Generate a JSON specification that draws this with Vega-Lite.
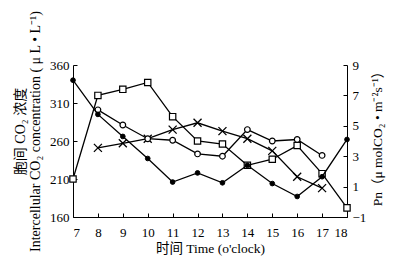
{
  "$schema": "https://vega.github.io/schema/vega-lite/v6.json",
  "width": 274,
  "height": 152,
  "autosize": "none",
  "padding": {"left": 73, "top": 65, "right": 50, "bottom": 47},
  "config": {
    "view": {"stroke": null},
    "axis": {
      "grid": false,
      "domainColor": "black",
      "tickColor": "black",
      "labelColor": "black",
      "titleColor": "black",
      "labelFont": "Liberation Serif, Noto Sans CJK SC, serif",
      "titleFont": "Liberation Serif, Noto Sans CJK SC, serif",
      "labelFontSize": 13,
      "titleFontSize": 13.5,
      "titleFontWeight": "normal",
      "tickSize": -4,
      "domainWidth": 1,
      "tickWidth": 1
    }
  },
  "data": {
    "values": [
      {"hour": 7, "value": 340, "series": "Ci-1"},
      {"hour": 8, "value": 295, "series": "Ci-1"},
      {"hour": 9, "value": 266, "series": "Ci-1"},
      {"hour": 10, "value": 237, "series": "Ci-1"},
      {"hour": 11, "value": 206, "series": "Ci-1"},
      {"hour": 12, "value": 218, "series": "Ci-1"},
      {"hour": 13, "value": 205, "series": "Ci-1"},
      {"hour": 14, "value": 228, "series": "Ci-1"},
      {"hour": 15, "value": 204, "series": "Ci-1"},
      {"hour": 16, "value": 187, "series": "Ci-1"},
      {"hour": 17, "value": 213, "series": "Ci-1"},
      {"hour": 18, "value": 262, "series": "Ci-1"},
      {"hour": 8, "value": 301, "series": "Ci-2"},
      {"hour": 9, "value": 281, "series": "Ci-2"},
      {"hour": 10, "value": 263, "series": "Ci-2"},
      {"hour": 11, "value": 261, "series": "Ci-2"},
      {"hour": 12, "value": 243, "series": "Ci-2"},
      {"hour": 13, "value": 240, "series": "Ci-2"},
      {"hour": 14, "value": 275, "series": "Ci-2"},
      {"hour": 15, "value": 260, "series": "Ci-2"},
      {"hour": 16, "value": 262, "series": "Ci-2"},
      {"hour": 17, "value": 241, "series": "Ci-2"},
      {"hour": 7, "value": 1.5, "series": "Pn-1"},
      {"hour": 8, "value": 7.0, "series": "Pn-1"},
      {"hour": 9, "value": 7.4, "series": "Pn-1"},
      {"hour": 10, "value": 7.85, "series": "Pn-1"},
      {"hour": 11, "value": 5.6, "series": "Pn-1"},
      {"hour": 12, "value": 4.0, "series": "Pn-1"},
      {"hour": 13, "value": 3.8, "series": "Pn-1"},
      {"hour": 14, "value": 2.4, "series": "Pn-1"},
      {"hour": 15, "value": 2.8, "series": "Pn-1"},
      {"hour": 16, "value": 3.7, "series": "Pn-1"},
      {"hour": 17, "value": 1.85, "series": "Pn-1"},
      {"hour": 18, "value": -0.4, "series": "Pn-1"},
      {"hour": 8, "value": 3.55, "series": "Pn-2"},
      {"hour": 9, "value": 3.85, "series": "Pn-2"},
      {"hour": 10, "value": 4.15, "series": "Pn-2"},
      {"hour": 11, "value": 4.75, "series": "Pn-2"},
      {"hour": 12, "value": 5.2, "series": "Pn-2"},
      {"hour": 13, "value": 4.65, "series": "Pn-2"},
      {"hour": 14, "value": 4.15, "series": "Pn-2"},
      {"hour": 15, "value": 3.35, "series": "Pn-2"},
      {"hour": 16, "value": 1.65, "series": "Pn-2"},
      {"hour": 17, "value": 0.9, "series": "Pn-2"}
    ]
  },
  "encoding": {
    "x": {
      "field": "hour",
      "type": "quantitative",
      "scale": {"domain": [7, 18], "nice": false, "zero": false},
      "axis": {
        "values": [7, 8, 9, 10, 11, 12, 13, 14, 15, 16, 17, 18],
        "title": "时间  Time (o'clock)",
        "labelPadding": 13,
        "titleX": 137,
        "titleY": 31,
        "titleAlign": "center",
        "titleBaseline": "middle"
      }
    }
  },
  "layer": [
    {
      "encoding": {
        "y": {
          "field": "value",
          "type": "quantitative",
          "scale": {"domain": [-1, 9], "nice": false, "zero": false},
          "axis": {
            "orient": "right",
            "values": [-1, 1, 3, 5, 7, 9],
            "title": "Pn（μ molCO₂ • m⁻²s⁻¹）",
            "titleAngle": 270,
            "titleX": 30,
            "titleY": 70,
            "titleAlign": "center",
            "titleBaseline": "middle",
            "labelPadding": 9
          }
        }
      },
      "layer": [
        {
          "transform": [{"filter": "datum.series === 'Pn-1'"}],
          "mark": {"type": "line", "color": "black", "strokeWidth": 1.3},
          "encoding": {}
        },
        {
          "transform": [{"filter": "datum.series === 'Pn-1'"}],
          "mark": {"type": "point", "shape": "square", "size": 40, "filled": true, "fill": "white", "stroke": "black", "strokeWidth": 1.2, "opacity": 1},
          "encoding": {}
        },
        {
          "transform": [{"filter": "datum.series === 'Pn-2'"}],
          "mark": {"type": "line", "color": "black", "strokeWidth": 1.3},
          "encoding": {}
        },
        {
          "transform": [{"filter": "datum.series === 'Pn-2'"}],
          "mark": {"type": "point", "shape": "M-1,-1L1,1M-1,1L1,-1", "size": 64, "filled": false, "stroke": "black", "strokeWidth": 1.3, "opacity": 1},
          "encoding": {}
        }
      ]
    },
    {
      "encoding": {
        "y": {
          "field": "value",
          "type": "quantitative",
          "scale": {"domain": [160, 360], "nice": false, "zero": false},
          "axis": {
            "orient": "left",
            "values": [160, 210, 260, 310, 360],
            "title": ["胞间 CO₂ 浓度", "Intercellular CO₂ concentration ( μ L • L⁻¹)"],
            "titleFontSize": 14,
            "labelPadding": 8,
            "titleX": -52.5,
            "titleY": 66,
            "titleAngle": 270,
            "titleAlign": "center",
            "titleBaseline": "middle",
            "titleLineHeight": 15
          }
        }
      },
      "layer": [
        {
          "transform": [{"filter": "datum.series === 'Ci-2'"}],
          "mark": {"type": "line", "color": "black", "strokeWidth": 1.3},
          "encoding": {}
        },
        {
          "transform": [{"filter": "datum.series === 'Ci-2'"}],
          "mark": {"type": "point", "shape": "circle", "size": 32, "filled": true, "fill": "white", "stroke": "black", "strokeWidth": 1.2, "opacity": 1},
          "encoding": {}
        },
        {
          "transform": [{"filter": "datum.series === 'Ci-1'"}],
          "mark": {"type": "line", "color": "black", "strokeWidth": 1.3},
          "encoding": {}
        },
        {
          "transform": [{"filter": "datum.series === 'Ci-1'"}],
          "mark": {"type": "point", "shape": "circle", "size": 22, "filled": true, "fill": "black", "stroke": "black", "strokeWidth": 1, "opacity": 1},
          "encoding": {}
        }
      ]
    }
  ],
  "resolve": {"scale": {"y": "independent"}}
}
